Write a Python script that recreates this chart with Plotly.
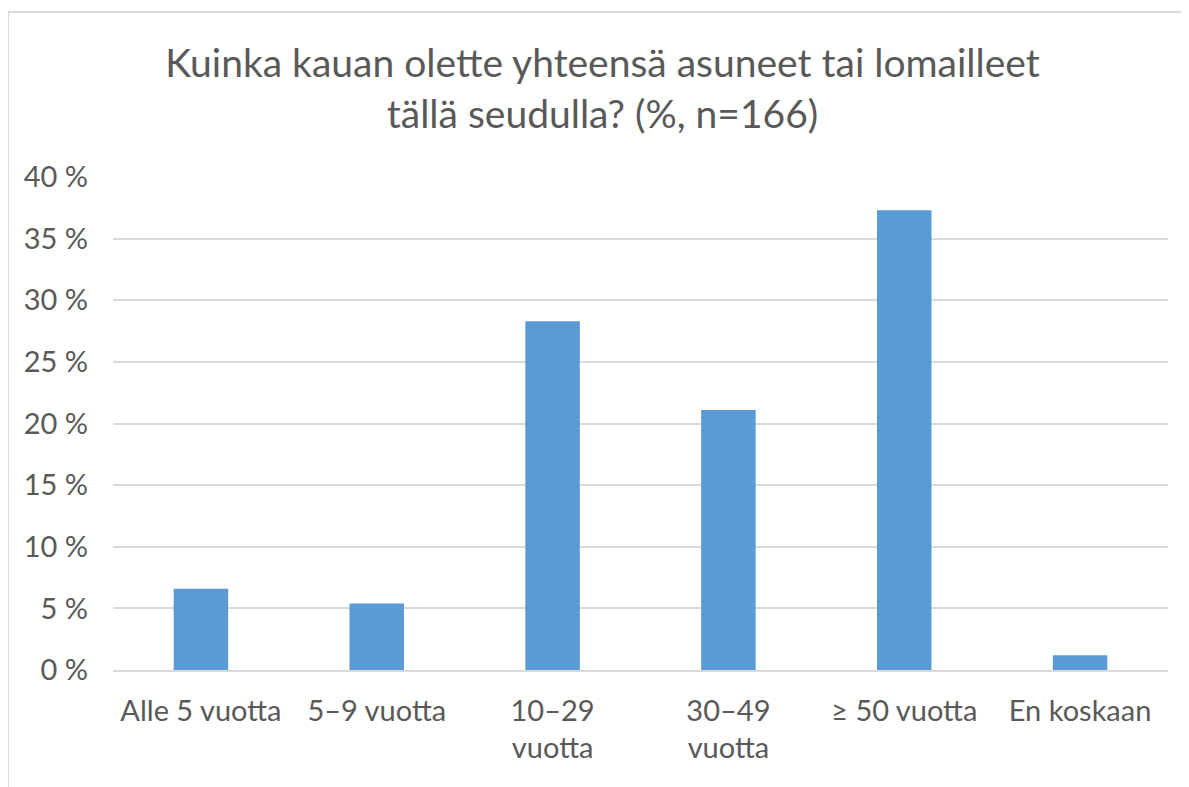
import plotly.graph_objects as go

categories = ["Alle 5 vuotta", "5–9 vuotta", "10–29<br>vuotta", "30–49<br>vuotta", "≥ 50 vuotta", "En koskaan"]
percent = [6.6, 5.4, 28.3, 21.1, 37.3, 1.2]

title = "Kuinka kauan olette yhteensä asuneet tai lomailleet<br>tällä seudulla? (%, n=166)"
grey = "#595959"

fig = go.Figure(go.Bar(x=categories, y=percent, marker=dict(color="#5B9BD5", line=dict(width=0)),
                       width=0.31, hoverinfo="x+y"))

fig.update_layout(
    width=1189, height=787,
    margin=dict(l=105, r=29, t=169, b=125),
    paper_bgcolor="white", plot_bgcolor="white",
    font=dict(family="Lato, Open Sans, sans-serif", size=29, color=grey),
    title=dict(text=title, x=0.5, xanchor="center", y=0.9125, yanchor="middle",
               font=dict(size=39, color=grey)),
    showlegend=False,
)
fig.update_yaxes(range=[0, 40], dtick=5, ticksuffix=" %", showgrid=True, gridcolor="#D9D9D9",
                 gridwidth=1.5, zeroline=False, showline=False, ticks="", ticklabelstandoff=24)
fig.update_xaxes(showline=True, linecolor="#D9D9D9", linewidth=1.5, ticks="", ticklabelstandoff=14)

# outer chart frame (cropped at right and bottom in the original)
fig.add_shape(type="rect", xref="paper", yref="paper", x0=-0.0995, x1=1.06, y0=-0.3, y1=1.3347,
              line=dict(color="#D9D9D9", width=2), layer="below")

fig.write_html("out.html")
